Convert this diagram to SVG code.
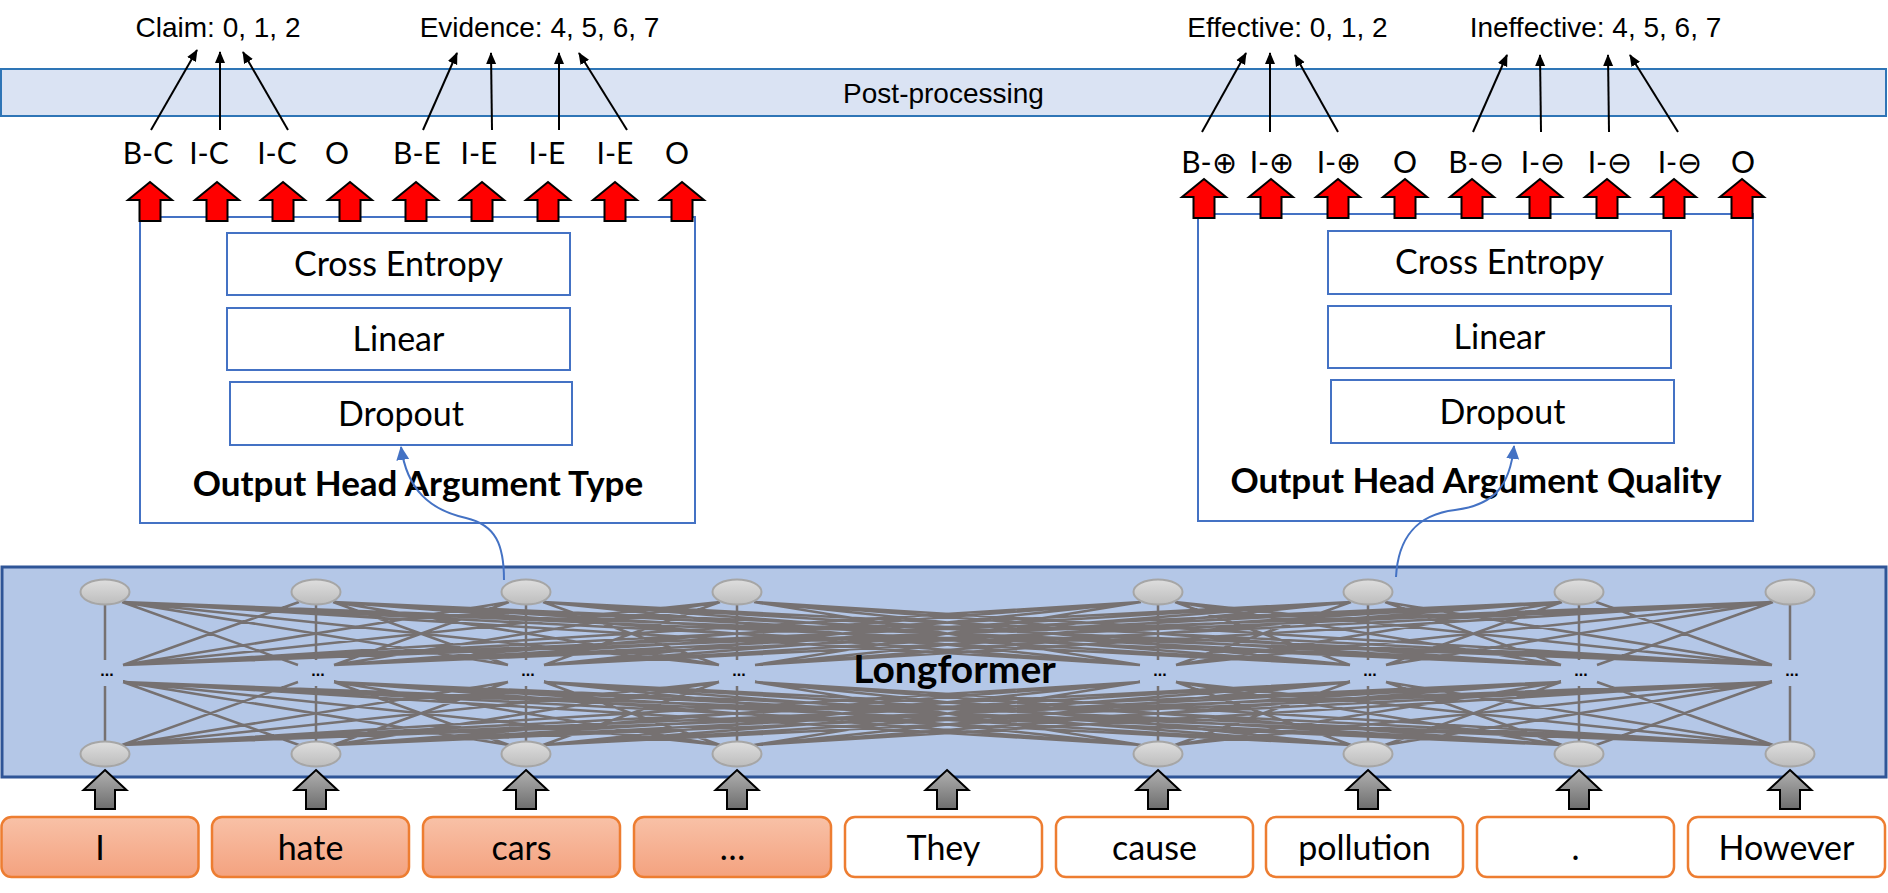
<svg xmlns="http://www.w3.org/2000/svg" xmlns:xlink="http://www.w3.org/1999/xlink" width="1888" height="893" viewBox="0 0 1888 893">
<style>
.lbl{font-family:"Liberation Sans",Arial,sans-serif;font-size:28px;fill:#000;text-anchor:middle}
.cal{font-family:Lato,"Open Sans",sans-serif;fill:#000;text-anchor:middle}
.tag{font-size:30px}
.box{font-size:34px}
.word{font-size:34px}
.title{font-size:35px;font-weight:bold}
.hbox{fill:#fff;stroke:#4472c4;stroke-width:2}
.net{stroke:#767171;stroke-width:2.5;fill:none}
.node{fill:url(#nodeGrad);stroke:#a6a6a6;stroke-width:2}
.tok{stroke:#ed7d31;stroke-width:2.5}
.blk{stroke:#000;stroke-width:2;fill:none;marker-end:url(#blkHead)}
.blue{stroke:#4472c4;stroke-width:2;fill:none;marker-end:url(#blueHead)}
.dots{font-family:"Liberation Sans",sans-serif;font-size:16px;font-weight:bold;fill:#000;text-anchor:middle}
</style>
<defs>
<linearGradient id="nodeGrad" x1="0" y1="0" x2="0" y2="1"><stop offset="0" stop-color="#dedede"/><stop offset="1" stop-color="#bdbdbd"/></linearGradient>
<linearGradient id="grayGrad" x1="0" y1="0" x2="0" y2="1"><stop offset="0" stop-color="#b0b0b0"/><stop offset="1" stop-color="#6e6e6e"/></linearGradient>
<linearGradient id="tokGrad" x1="0" y1="0" x2="0" y2="1"><stop offset="0" stop-color="#f8c1a7"/><stop offset="1" stop-color="#f4a27f"/></linearGradient>
<path id="redArrow" d="M0 0 L22 18 L10.5 18 L10.5 39 L-10.5 39 L-10.5 18 L-22 18 Z" fill="#ff0000" stroke="#000" stroke-width="2" stroke-linejoin="miter"/>
<path id="grayArrow" d="M0 0 L21.5 20 L10 20 L10 39 L-10 39 L-10 20 L-21.5 20 Z" fill="url(#grayGrad)" stroke="#000" stroke-width="2"/>
<marker id="blkHead" markerUnits="userSpaceOnUse" markerWidth="12" markerHeight="12" viewBox="0 0 12 12" refX="11" refY="6" orient="auto"><path d="M0 1 L12 6 L0 11 Z" fill="#000"/></marker>
<marker id="blueHead" markerUnits="userSpaceOnUse" markerWidth="14" markerHeight="14" viewBox="0 0 14 14" refX="13" refY="7" orient="auto"><path d="M0 0.5 L14 7 L0 13.5 Z" fill="#4472c4"/></marker>
</defs>
<rect width="1888" height="893" fill="#fff"/>

<g id="post-processing">
<rect x="1" y="69" width="1885" height="47" fill="#dae3f3" stroke="#2e75b6" stroke-width="2"/>
<text class="lbl" x="943.5" y="103">Post-processing</text>
</g>

<g id="result-labels">
<text class="lbl" x="218" y="37">Claim: 0, 1, 2</text>
<text class="lbl" x="539.5" y="37">Evidence: 4, 5, 6, 7</text>
<text class="lbl" x="1287.5" y="37">Effective: 0, 1, 2</text>
<text class="lbl" x="1595.5" y="37">Ineffective: 4, 5, 6, 7</text>
</g>

<g id="head-type">
<rect class="hbox" x="140" y="217" width="555" height="306"/>
<rect class="hbox" x="227" y="233" width="343" height="62"/>
<text class="cal box" x="398.5" y="276">Cross Entropy</text>
<rect class="hbox" x="227" y="308" width="343" height="62"/>
<text class="cal box" x="398.5" y="351">Linear</text>
<rect class="hbox" x="230" y="382" width="342" height="63"/>
<text class="cal box" x="401" y="426">Dropout</text>
<text class="cal title" x="418" y="496">Output Head Argument Type</text>
</g>

<g id="head-quality">
<rect class="hbox" x="1198" y="214" width="555" height="307"/>
<rect class="hbox" x="1328" y="231" width="343" height="63"/>
<text class="cal box" x="1499.5" y="274">Cross Entropy</text>
<rect class="hbox" x="1328" y="306" width="343" height="62"/>
<text class="cal box" x="1499.5" y="349">Linear</text>
<rect class="hbox" x="1331" y="380" width="343" height="63"/>
<text class="cal box" x="1502.5" y="424">Dropout</text>
<text class="cal title" x="1476" y="493">Output Head Argument Quality</text>
</g>

<g id="type-tags">
<text class="cal tag" x="148" y="164">B-C</text>
<text class="cal tag" x="209" y="164">I-C</text>
<text class="cal tag" x="277" y="164">I-C</text>
<text class="cal tag" x="337" y="164">O</text>
<text class="cal tag" x="417" y="164">B-E</text>
<text class="cal tag" x="479" y="164">I-E</text>
<text class="cal tag" x="547" y="164">I-E</text>
<text class="cal tag" x="615" y="164">I-E</text>
<text class="cal tag" x="677" y="164">O</text>
</g>

<g id="quality-tags">
<text class="cal tag" x="1209" y="173">B-⊕</text>
<text class="cal tag" x="1272" y="173">I-⊕</text>
<text class="cal tag" x="1339" y="173">I-⊕</text>
<text class="cal tag" x="1405" y="173">O</text>
<text class="cal tag" x="1476" y="173">B-⊖</text>
<text class="cal tag" x="1543" y="173">I-⊖</text>
<text class="cal tag" x="1610" y="173">I-⊖</text>
<text class="cal tag" x="1680" y="173">I-⊖</text>
<text class="cal tag" x="1743" y="173">O</text>
</g>

<g id="output-arrows">
<use xlink:href="#redArrow" x="150" y="182"/>
<use xlink:href="#redArrow" x="217" y="182"/>
<use xlink:href="#redArrow" x="283" y="182"/>
<use xlink:href="#redArrow" x="350" y="182"/>
<use xlink:href="#redArrow" x="416" y="182"/>
<use xlink:href="#redArrow" x="482" y="182"/>
<use xlink:href="#redArrow" x="548" y="182"/>
<use xlink:href="#redArrow" x="615" y="182"/>
<use xlink:href="#redArrow" x="682" y="182"/>
<use xlink:href="#redArrow" x="1204" y="179"/>
<use xlink:href="#redArrow" x="1271" y="179"/>
<use xlink:href="#redArrow" x="1338" y="179"/>
<use xlink:href="#redArrow" x="1405" y="179"/>
<use xlink:href="#redArrow" x="1472" y="179"/>
<use xlink:href="#redArrow" x="1540" y="179"/>
<use xlink:href="#redArrow" x="1607" y="179"/>
<use xlink:href="#redArrow" x="1674" y="179"/>
<use xlink:href="#redArrow" x="1742" y="179"/>
</g>

<g id="longformer">
<rect x="2" y="567" width="1884" height="210" fill="#b4c7e7" stroke="#2f5597" stroke-width="3"/>
<path class="net" d="M122 602L298 665M122 602L508 665M122 602L719 665M122 602L1140 665M122 602L1350 665M122 602L1561 665M122 602L1772 665
M299 602L123 665M333 602L508 665M333 602L719 665M333 602L1140 665M333 602L1350 665M333 602L1561 665M333 602L1772 665
M509 602L123 665M509 602L334 665M543 602L719 665M543 602L1140 665M543 602L1350 665M543 602L1561 665M543 602L1772 665
M720 602L123 665M720 602L334 665M720 602L544 665M754 602L1140 665M754 602L1350 665M754 602L1561 665M754 602L1772 665
M1141 602L123 665M1141 602L334 665M1141 602L544 665M1141 602L755 665M1175 602L1350 665M1175 602L1561 665M1175 602L1772 665
M1351 602L123 665M1351 602L334 665M1351 602L544 665M1351 602L755 665M1351 602L1176 665M1385 602L1561 665M1385 602L1772 665
M1562 602L123 665M1562 602L334 665M1562 602L544 665M1562 602L755 665M1562 602L1176 665M1562 602L1386 665M1596 602L1772 665
M1773 602L123 665M1773 602L334 665M1773 602L544 665M1773 602L755 665M1773 602L1176 665M1773 602L1386 665M1773 602L1597 665"/>
<path class="net" d="M123 682L299 745M123 682L509 745M123 682L720 745M123 682L1141 745M123 682L1351 745M123 682L1562 745M123 682L1773 745
M298 682L122 745M334 682L509 745M334 682L720 745M334 682L1141 745M334 682L1351 745M334 682L1562 745M334 682L1773 745
M508 682L122 745M508 682L333 745M544 682L720 745M544 682L1141 745M544 682L1351 745M544 682L1562 745M544 682L1773 745
M719 682L122 745M719 682L333 745M719 682L543 745M755 682L1141 745M755 682L1351 745M755 682L1562 745M755 682L1773 745
M1140 682L122 745M1140 682L333 745M1140 682L543 745M1140 682L754 745M1176 682L1351 745M1176 682L1562 745M1176 682L1773 745
M1350 682L122 745M1350 682L333 745M1350 682L543 745M1350 682L754 745M1350 682L1175 745M1386 682L1562 745M1386 682L1773 745
M1561 682L122 745M1561 682L333 745M1561 682L543 745M1561 682L754 745M1561 682L1175 745M1561 682L1385 745M1597 682L1773 745
M1772 682L122 745M1772 682L333 745M1772 682L543 745M1772 682L754 745M1772 682L1175 745M1772 682L1385 745M1772 682L1596 745"/>
<path class="net" stroke-width="2" d="M105 604V660M105 686V742M316 604V660M316 686V742M526 604V660M526 686V742M737 604V660M737 686V742M1158 604V660M1158 686V742M1368 604V660M1368 686V742M1579 604V660M1579 686V742M1790 604V660M1790 686V742"/>
<g>
<ellipse class="node" cx="105" cy="592" rx="24.5" ry="12.5"/>
<ellipse class="node" cx="316" cy="592" rx="24.5" ry="12.5"/>
<ellipse class="node" cx="526" cy="592" rx="24.5" ry="12.5"/>
<ellipse class="node" cx="737" cy="592" rx="24.5" ry="12.5"/>
<ellipse class="node" cx="1158" cy="592" rx="24.5" ry="12.5"/>
<ellipse class="node" cx="1368" cy="592" rx="24.5" ry="12.5"/>
<ellipse class="node" cx="1579" cy="592" rx="24.5" ry="12.5"/>
<ellipse class="node" cx="1790" cy="592" rx="24.5" ry="12.5"/>
<ellipse class="node" cx="105" cy="754" rx="24.5" ry="12.5"/>
<ellipse class="node" cx="316" cy="754" rx="24.5" ry="12.5"/>
<ellipse class="node" cx="526" cy="754" rx="24.5" ry="12.5"/>
<ellipse class="node" cx="737" cy="754" rx="24.5" ry="12.5"/>
<ellipse class="node" cx="1158" cy="754" rx="24.5" ry="12.5"/>
<ellipse class="node" cx="1368" cy="754" rx="24.5" ry="12.5"/>
<ellipse class="node" cx="1579" cy="754" rx="24.5" ry="12.5"/>
<ellipse class="node" cx="1790" cy="754" rx="24.5" ry="12.5"/>
</g>
<text class="dots" x="107" y="676">...</text>
<text class="dots" x="318" y="676">...</text>
<text class="dots" x="528" y="676">...</text>
<text class="dots" x="739" y="676">...</text>
<text class="dots" x="1160" y="676">...</text>
<text class="dots" x="1370" y="676">...</text>
<text class="dots" x="1581" y="676">...</text>
<text class="dots" x="1792" y="676">...</text>
<text class="cal" x="954.5" y="683" font-size="39" font-weight="bold">Longformer</text>
</g>

<g id="input-arrows">
<use xlink:href="#grayArrow" x="105" y="770"/>
<use xlink:href="#grayArrow" x="316" y="770"/>
<use xlink:href="#grayArrow" x="526" y="770"/>
<use xlink:href="#grayArrow" x="737" y="770"/>
<use xlink:href="#grayArrow" x="947" y="770"/>
<use xlink:href="#grayArrow" x="1158" y="770"/>
<use xlink:href="#grayArrow" x="1368" y="770"/>
<use xlink:href="#grayArrow" x="1579" y="770"/>
<use xlink:href="#grayArrow" x="1790" y="770"/>
</g>

<g id="tokens">
<g id="tok-I"><rect class="tok" x="1.5" y="817" width="197" height="60" rx="10" fill="url(#tokGrad)"/><text class="cal word" x="100" y="860">I</text></g>
<g id="tok-hate"><rect class="tok" x="212" y="817" width="197" height="60" rx="10" fill="url(#tokGrad)"/><text class="cal word" x="310.5" y="860">hate</text></g>
<g id="tok-cars"><rect class="tok" x="423" y="817" width="197" height="60" rx="10" fill="url(#tokGrad)"/><text class="cal word" x="521.5" y="860">cars</text></g>
<g id="tok-ellipsis"><rect class="tok" x="634" y="817" width="197" height="60" rx="10" fill="url(#tokGrad)"/><text class="cal word" x="732.5" y="860">…</text></g>
<g id="tok-They"><rect class="tok" x="845" y="817" width="197" height="60" rx="10" fill="#fff"/><text class="cal word" x="943.5" y="860">They</text></g>
<g id="tok-cause"><rect class="tok" x="1056" y="817" width="197" height="60" rx="10" fill="#fff"/><text class="cal word" x="1154.5" y="860">cause</text></g>
<g id="tok-pollution"><rect class="tok" x="1266" y="817" width="197" height="60" rx="10" fill="#fff"/><text class="cal word" x="1364.5" y="860">pollution</text></g>
<g id="tok-period"><rect class="tok" x="1477" y="817" width="197" height="60" rx="10" fill="#fff"/><text class="cal word" x="1575.5" y="860">.</text></g>
<g id="tok-However"><rect class="tok" x="1688" y="817" width="197" height="60" rx="10" fill="#fff"/><text class="cal word" x="1786.5" y="860">However</text></g>
</g>

<g id="connectors">
<line class="blk" x1="151" y1="130" x2="197" y2="50"/>
<line class="blk" x1="220" y1="130" x2="220" y2="52"/>
<line class="blk" x1="288" y1="130" x2="243" y2="52"/>
<line class="blk" x1="423" y1="130" x2="457" y2="53"/>
<line class="blk" x1="492" y1="130" x2="491" y2="53"/>
<line class="blk" x1="559" y1="130" x2="559" y2="53"/>
<line class="blk" x1="627" y1="130" x2="579" y2="53"/>
<line class="blk" x1="1202" y1="132" x2="1246" y2="53"/>
<line class="blk" x1="1270" y1="132" x2="1270" y2="53"/>
<line class="blk" x1="1338" y1="132" x2="1295" y2="55"/>
<line class="blk" x1="1473" y1="132" x2="1507" y2="55"/>
<line class="blk" x1="1541" y1="132" x2="1540" y2="55"/>
<line class="blk" x1="1609" y1="132" x2="1608" y2="55"/>
<line class="blk" x1="1678" y1="132" x2="1630" y2="55"/>
<path class="blue" d="M504 580 C504 545 496 525 466 518 C430 510 407 490 401 447"/>
<path class="blue" d="M1396 577 C1398 540 1414 515 1455 510 C1495 505 1510 485 1514 446"/>
</g>
</svg>
